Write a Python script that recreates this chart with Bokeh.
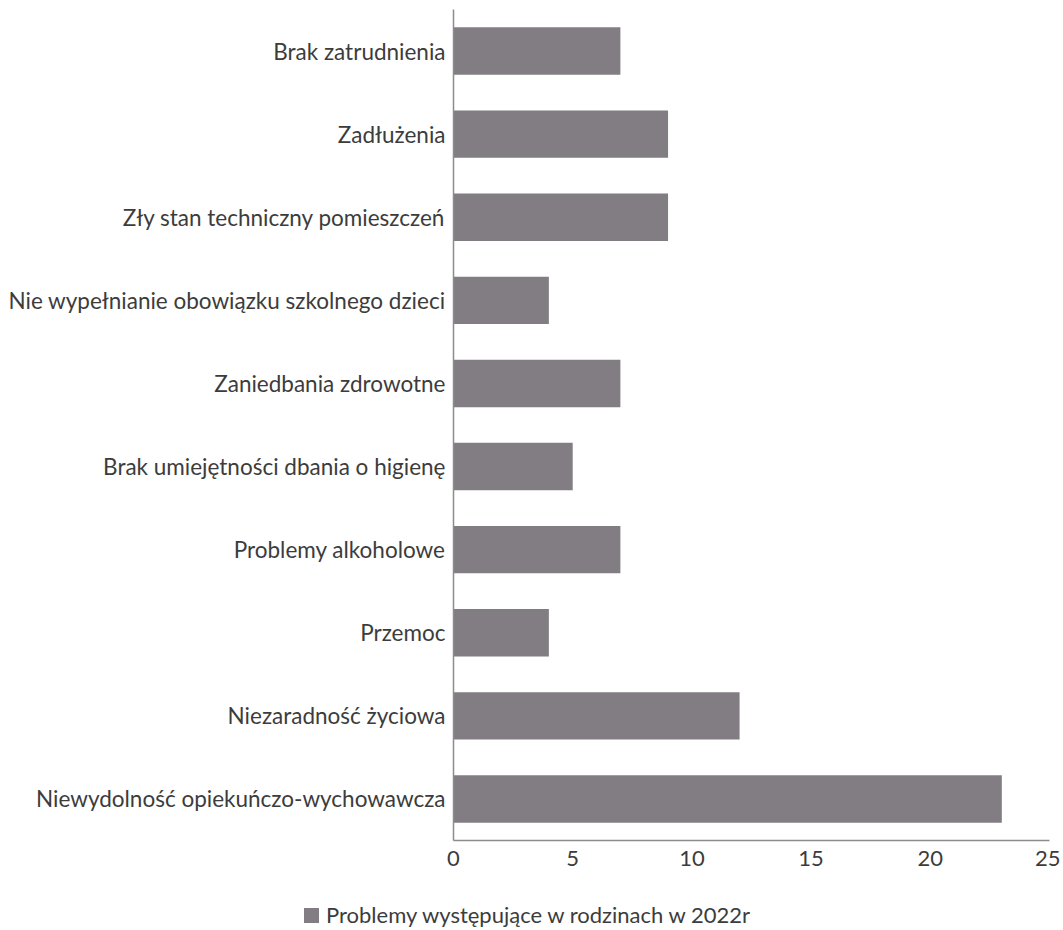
from bokeh.plotting import figure
from bokeh.layouts import column
from bokeh.models import FactorRange, Range1d, FixedTicker, Div
from bokeh.embed import file_html
from bokeh.resources import INLINE

categories = [
    "Brak zatrudnienia",
    "Zadłużenia",
    "Zły stan techniczny pomieszczeń",
    "Nie wypełnianie obowiązku szkolnego dzieci",
    "Zaniedbania zdrowotne",
    "Brak umiejętności dbania o higienę",
    "Problemy alkoholowe",
    "Przemoc",
    "Niezaradność życiowa",
    "Niewydolność opiekuńczo-wychowawcza",
]
values = [7, 9, 9, 4, 7, 5, 7, 4, 12, 23]
series_name = "Problemy występujące w rodzinach w 2022r"
x_ticks = [0, 5, 10, 15, 20, 25]

FONT = "Lato"
TEXT = "#3c3c3c"
BAR = "#827d83"
AXIS = "#8c8c8c"

factors = list(reversed(categories))
vals = list(reversed(values))

p = figure(
    width=1060, height=872,
    y_range=FactorRange(factors=factors, range_padding=0),
    x_range=Range1d(0, 25),
    output_backend="svg", toolbar_location=None,
    min_border_left=453, min_border_right=11, min_border_top=9, min_border_bottom=32,
)
r = p.hbar(y=factors, right=vals, left=0, height=0.57, fill_color=BAR, line_color=None,
           legend_label=series_name)
p.legend.visible = False

p.xgrid.visible = False
p.ygrid.visible = False
p.outline_line_color = None

p.xaxis.ticker = FixedTicker(ticks=x_ticks)
p.xaxis.major_tick_line_color = None
p.xaxis.minor_tick_line_color = None
p.xaxis.axis_line_color = AXIS
p.xaxis.axis_line_width = 1.5
p.xaxis.major_label_text_font = FONT
p.xaxis.major_label_text_font_size = "22px"
p.xaxis.major_label_text_color = TEXT
p.xaxis.major_label_standoff = 4

p.yaxis.major_tick_line_color = None
p.yaxis.minor_tick_line_color = None
p.yaxis.axis_line_color = AXIS
p.yaxis.axis_line_width = 1.5
p.yaxis.major_label_text_font = FONT
p.yaxis.major_label_text_font_size = "22.5px"
p.yaxis.major_label_text_color = TEXT
p.yaxis.major_label_standoff = 2

# legend strip below the chart (HTML so it can sit left of the plot frame)
legend_html = (
    f'<div style="position:relative;width:1060px;height:50px;font-family:{FONT};'
    f'font-size:22px;color:{TEXT};">'
    f'<span style="position:absolute;left:299px;top:31px;width:15px;height:15px;'
    f'background:{BAR};"></span>'
    f'<span style="position:absolute;left:321px;top:25px;line-height:26px;'
    f'white-space:nowrap;">{series_name}</span>'
    f'</div>'
)
lg = Div(text=legend_html, width=1060, height=50)

open("out.html", "w").write(file_html(column(p, lg, spacing=0), INLINE))
